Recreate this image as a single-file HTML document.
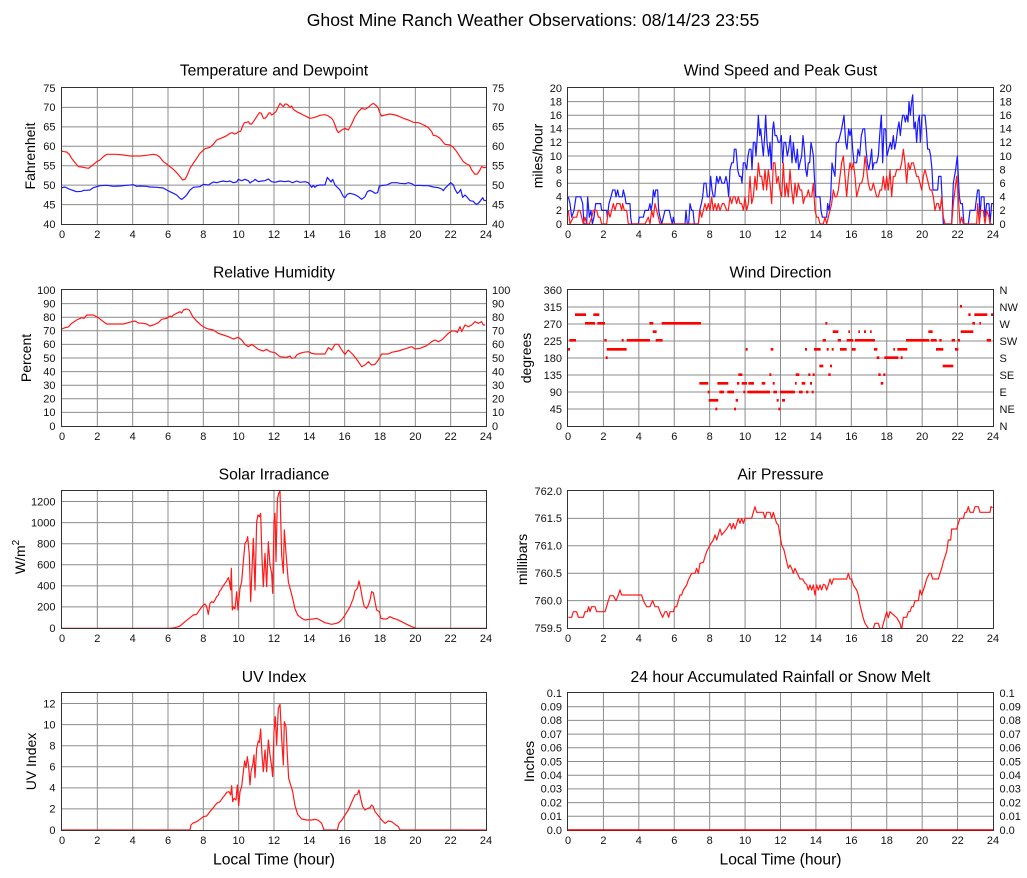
<!DOCTYPE html>
<html><head><meta charset="utf-8"><style>
html,body{margin:0;padding:0;background:#fff;}
svg{display:block;font-family:"Liberation Sans",Arial,sans-serif;}
.g{stroke:#8c8c8c;stroke-width:1;fill:none;}
.f{stroke:#333;stroke-width:1;fill:none;}
.t{font-size:11px;fill:#111;}
.d{fill:none;stroke-width:1.2;vector-effect:non-scaling-stroke;stroke-linejoin:round;}
.tt{font-size:15.7px;fill:#000;text-anchor:middle;}
.yl{font-size:14px;fill:#000;text-anchor:middle;}
</style></head><body>
<svg width="1027" height="878" viewBox="0 0 1027 878" xmlns="http://www.w3.org/2000/svg">
<rect width="1027" height="878" fill="#fff"/>
<defs>
<clipPath id="cA"><rect x="62" y="88" width="424" height="136"/></clipPath>
<clipPath id="cB"><rect x="568" y="88" width="425" height="136"/></clipPath>
<clipPath id="cC"><rect x="62" y="290" width="424" height="136"/></clipPath>
<clipPath id="cE"><rect x="62" y="490" width="424" height="138"/></clipPath>
<clipPath id="cF"><rect x="568" y="491" width="425" height="137"/></clipPath>
<clipPath id="cG"><rect x="62" y="692" width="424" height="138"/></clipPath>
<path id="vL" d="M97.33 0V137M132.67 0V137M168 0V137M203.33 0V137M238.67 0V137M274 0V137M309.33 0V137M344.67 0V137M380 0V137M415.33 0V137M450.67 0V137"/>
<path id="vR" d="M603.42 0V137M638.83 0V137M674.25 0V137M709.67 0V137M745.08 0V137M780.5 0V137M815.92 0V137M851.33 0V137M886.75 0V137M922.17 0V137M957.58 0V137"/>
<g id="xL"><text x="62">0</text><text x="97.33">2</text><text x="132.67">4</text><text x="168">6</text><text x="203.33">8</text><text x="238.67">10</text><text x="274">12</text><text x="309.33">14</text><text x="344.67">16</text><text x="380">18</text><text x="415.33">20</text><text x="450.67">22</text><text x="486">24</text></g>
<g id="xR"><text x="568">0</text><text x="603.42">2</text><text x="638.83">4</text><text x="674.25">6</text><text x="709.67">8</text><text x="745.08">10</text><text x="780.5">12</text><text x="815.92">14</text><text x="851.33">16</text><text x="886.75">18</text><text x="922.17">20</text><text x="957.58">22</text><text x="993">24</text></g>
</defs>

<text x="533" y="26" font-size="17.6" text-anchor="middle" fill="#000">Ghost Mine Ranch Weather Observations: 08/14/23 23:55</text>

<!-- ============ Panel A: Temperature ============ -->
<text class="tt" x="274" y="75.5">Temperature and Dewpoint</text>
<use href="#vL" class="g" y="87.5"/>
<path class="g" d="M62 204.57H486M62 185.14H486M62 165.71H486M62 146.29H486M62 126.86H486M62 107.43H486"/>
<g clip-path="url(#cA)"><g transform="translate(0,50) scale(0.333333)">
<polyline class="d" stroke="#ff1a1a" points="185,303 193,305 200,306 207,312 215,325 225,338 235,350 245,351 255,353 265,355 275,348 290,335 300,330 310,320 320,313 335,313 350,313 370,315 390,318 405,318 420,318 440,316 460,313 470,315 478,320 490,335 500,342 510,350 520,358 530,368 540,380 548,390 555,388 562,375 570,355 580,340 590,325 600,310 615,296 630,292 640,283 650,270 660,266 670,262 680,257 690,250 697,248 703,252 710,250 715,245 722,244 728,228 733,218 740,217 745,215 750,222 755,222 760,215 765,208 770,200 778,188 784,190 790,205 795,205 800,200 806,190 810,188 815,195 822,190 828,185 835,170 840,160 845,165 850,170 855,162 862,163 870,172 875,168 880,178 890,185 900,190 910,195 920,200 930,205 940,203 950,200 960,196 975,194 985,198 995,205 1000,212 1005,225 1010,240 1015,248 1025,240 1035,235 1045,240 1055,222 1065,200 1075,185 1085,175 1095,178 1105,172 1115,163 1120,160 1130,168 1135,175 1140,190 1145,198 1155,195 1170,192 1185,195 1195,198 1210,205 1225,210 1240,217 1255,218 1265,222 1275,227 1285,233 1295,245 1300,256 1310,258 1320,265 1335,283 1350,285 1360,292 1370,305 1380,320 1390,335 1400,342 1408,345 1415,360 1425,373 1432,372 1440,360 1445,350 1452,353 1458,352"/>
<polyline class="d" stroke="#1a1aff" points="185,413 195,411 205,416 215,420 230,425 245,424 250,421 260,421 270,420 280,413 290,410 300,407 320,406 340,409 360,408 380,406 400,404 410,409 420,408 440,409 450,411 470,412 490,414 500,420 510,425 520,430 530,435 540,445 545,448 552,443 560,435 570,420 580,412 600,410 610,403 625,405 640,396 650,398 660,395 670,393 680,395 690,393 700,398 710,396 715,388 725,392 735,388 745,392 750,399 755,395 760,393 765,388 775,395 785,393 795,392 805,387 815,395 825,397 840,393 855,395 865,393 878,398 890,393 900,397 915,395 925,398 930,405 935,412 940,406 945,412 950,407 960,405 975,405 982,382 987,388 993,396 998,388 1005,405 1012,412 1020,420 1030,440 1035,443 1042,433 1050,430 1065,434 1075,440 1085,448 1095,440 1102,425 1110,421 1118,425 1125,430 1133,428 1138,408 1150,406 1160,405 1175,398 1190,398 1200,400 1215,401 1225,398 1235,401 1245,407 1255,406 1270,407 1285,407 1300,411 1315,413 1325,417 1330,422 1335,415 1345,405 1352,398 1360,405 1365,418 1372,430 1378,425 1382,418 1388,442 1395,435 1400,440 1410,452 1420,454 1425,460 1430,463 1437,458 1443,450 1448,443 1452,451 1458,452"/>
</g></g>
<rect class="f" x="61.5" y="87.5" width="425" height="137"/>
<g class="t" text-anchor="end"><text x="55.5" y="91.8">75</text><text x="55.5" y="111.2">70</text><text x="55.5" y="130.7">65</text><text x="55.5" y="150.1">60</text><text x="55.5" y="169.5">55</text><text x="55.5" y="188.9">50</text><text x="55.5" y="208.4">45</text><text x="55.5" y="227.8">40</text></g>
<g class="t"><text x="492" y="91.8">75</text><text x="492" y="111.2">70</text><text x="492" y="130.7">65</text><text x="492" y="150.1">60</text><text x="492" y="169.5">55</text><text x="492" y="188.9">50</text><text x="492" y="208.4">45</text><text x="492" y="227.8">40</text></g>
<use href="#xL" class="t" text-anchor="middle" y="238"/>
<text class="yl" transform="translate(35,156) rotate(-90)">Fahrenheit</text>

<!-- ============ Panel B: Wind Speed ============ -->
<text class="tt" x="780.5" y="75.5">Wind Speed and Peak Gust</text>
<use href="#vR" class="g" y="87.5"/>
<path class="g" d="M568 210.4H993M568 196.8H993M568 183.2H993M568 169.6H993M568 156H993M568 142.4H993M568 128.8H993M568 115.2H993M568 101.6H993"/>
<g clip-path="url(#cB)"><g transform="translate(510,224) scale(0.333333,-6.8)">
<polyline class="d" stroke="#1a1aff" points="175,4 180,3 185,1 192,2 198,4 205,4 212,4 218,3 222,0 230,0 233,4 238,1 243,2 247,0 252,1 257,3 265,3 272,3 275,2 280,2 290,2 292,1 297,3 303,4 308,5 315,5 318,4 323,5 327,4 333,4 337,4 340,5 345,4 348,3 360,3 362,1 365,0 385,0 388,1 400,1 405,2 415,2 420,3 423,2 427,3 430,5 434,4 437,5 443,5 446,2 450,1 455,0 460,1 465,2 478,2 482,1 487,0 490,1 494,0 525,0 528,2 532,0 536,0 540,3 545,2 549,2 553,0 565,0 569,2 574,3 578,4 582,6 588,6 592,4 598,4 602,7 606,5 610,4 614,4 620,7 625,6 630,7 636,6 643,6 648,7 652,6 656,4 660,8 665,9 670,9 673,11 678,11 683,8 688,7 693,7 696,6 700,9 705,9 710,8 714,10 718,11 723,11 726,8 730,12 735,12 738,10 742,13 745,16 749,13 752,14 756,12 760,10 764,13 767,16 771,12 776,10 780,12 784,8 788,14 791,15 795,13 800,13 805,12 810,12 814,13 818,9 822,12 827,12 832,10 836,11 841,13 846,9 850,12 854,10 858,9 862,11 866,8 870,9 875,10 879,13 883,11 887,8 891,7 895,9 899,9 903,12 907,11 910,10 913,7 917,4 925,4 930,4 933,2 937,1 950,1 953,3 957,2 962,4 966,9 970,8 975,7 979,12 985,12 990,13 995,14 1002,16 1007,12 1011,11 1016,14 1020,13 1024,14 1028,11 1032,9 1040,9 1044,11 1049,10 1054,13 1059,14 1064,14 1068,11 1072,9 1076,8 1080,9 1085,11 1088,8 1092,9 1100,9 1105,10 1109,13 1114,16 1118,9 1122,14 1127,14 1131,10 1136,11 1141,12 1145,11 1150,13 1154,11 1158,12 1163,14 1167,15 1171,13 1175,15 1178,16 1182,16 1186,15 1190,16 1194,15 1197,18 1201,16 1205,18 1208,19 1212,14 1216,15 1220,12 1224,15 1228,16 1231,12 1236,16 1245,16 1249,14 1253,11 1258,11 1262,10 1266,8 1269,5 1283,5 1286,7 1293,7 1300,0 1325,0 1330,6 1337,8 1342,10 1348,4 1352,3 1357,3 1362,0 1375,0 1380,2 1395,2 1400,4 1403,5 1407,5 1410,1 1414,4 1422,4 1425,1 1430,3 1437,3 1440,0 1445,3 1450,3"/>
<polyline class="d" stroke="#ff1a1a" points="175,2 180,0 190,1 200,1 205,2 210,2 215,1 220,0 225,1 230,0 238,0 245,1 250,2 260,2 265,1 270,1 275,0 290,0 295,2 300,1 305,2 310,3 315,2 320,3 330,3 335,2 338,3 343,2 350,2 355,0 405,0 415,1 420,0 425,2 430,1 435,3 440,2 445,1 450,0 565,0 570,2 575,1 580,2 585,3 590,2 595,3 600,2 605,4 610,2 615,3 620,2 625,3 630,2 637,3 642,3 650,2 655,2 660,4 665,3 670,4 675,4 680,3 685,4 690,3 695,3 700,2 705,4 710,2 715,3 720,7 725,3 730,4 735,7 740,5 745,9 750,7 755,7 760,5 765,8 770,5 775,8 780,6 785,3 790,9 795,9 800,6 805,7 810,5 815,4 820,9 825,4 830,6 835,4 840,8 845,5 850,3 855,6 860,4 865,6 870,5 875,5 880,3 885,4 890,4 895,5 900,4 905,4 910,6 915,2 920,1 925,1 930,0 940,0 945,1 950,0 955,1 960,2 965,3 970,5 975,4 980,4 985,5 990,7 995,9 1000,10 1005,7 1010,4 1015,7 1020,9 1025,8 1030,9 1035,7 1040,4 1045,5 1050,6 1055,6 1060,7 1065,10 1070,8 1075,6 1080,5 1085,5 1090,6 1095,5 1100,4 1105,4 1110,5 1115,5 1120,7 1125,5 1130,7 1135,5 1140,8 1145,4 1150,7 1155,7 1160,8 1165,8 1170,8 1175,9 1180,11 1185,9 1190,6 1195,9 1200,8 1205,9 1210,9 1215,8 1220,7 1225,7 1230,6 1235,5 1240,7 1245,8 1250,7 1255,6 1260,5 1265,5 1270,4 1275,2 1280,3 1285,3 1290,2 1295,4 1300,1 1305,0 1325,0 1330,3 1335,5 1340,7 1345,4 1350,0 1355,1 1360,0 1400,0 1403,3 1408,0 1412,2 1420,2 1425,0 1430,2 1437,1 1440,0 1447,0"/>
</g></g>
<rect class="f" x="567.5" y="87.5" width="426" height="137"/>
<g class="t" text-anchor="end"><text x="562" y="91.8">20</text><text x="562" y="105.4">18</text><text x="562" y="119">16</text><text x="562" y="132.6">14</text><text x="562" y="146.2">12</text><text x="562" y="159.8">10</text><text x="562" y="173.4">8</text><text x="562" y="187">6</text><text x="562" y="200.6">4</text><text x="562" y="214.2">2</text><text x="562" y="227.8">0</text></g>
<g class="t"><text x="999.5" y="91.8">20</text><text x="999.5" y="105.4">18</text><text x="999.5" y="119">16</text><text x="999.5" y="132.6">14</text><text x="999.5" y="146.2">12</text><text x="999.5" y="159.8">10</text><text x="999.5" y="173.4">8</text><text x="999.5" y="187">6</text><text x="999.5" y="200.6">4</text><text x="999.5" y="214.2">2</text><text x="999.5" y="227.8">0</text></g>
<use href="#xR" class="t" text-anchor="middle" y="238"/>
<text class="yl" transform="translate(542.5,156) rotate(-90)">miles/hour</text>

<!-- ============ Panel C: RH ============ -->
<text class="tt" x="274" y="277.5">Relative Humidity</text>
<use href="#vL" class="g" y="289.5"/>
<path class="g" d="M62 303.6H486M62 317.2H486M62 330.8H486M62 344.4H486M62 358H486M62 371.6H486M62 385.2H486M62 398.8H486M62 412.4H486"/>
<g clip-path="url(#cC)"><g transform="translate(0,255) scale(0.333333)">
<polyline class="d" stroke="#ff1a1a" points="185,222 195,218 205,216 215,205 230,195 245,188 252,190 260,180 280,180 295,188 310,200 320,207 340,207 370,207 385,203 395,200 405,198 415,204 430,205 440,207 450,213 460,210 475,203 485,193 500,190 510,183 515,186 520,180 530,175 540,170 545,174 550,165 560,162 568,165 578,185 590,198 605,212 615,218 625,222 640,225 655,235 670,240 685,245 700,252 715,247 725,255 735,268 745,275 755,268 765,275 775,283 790,288 800,283 810,290 825,293 840,305 860,307 870,303 875,310 885,308 890,300 895,297 910,292 925,290 935,295 945,297 955,297 975,297 985,278 995,285 1005,268 1015,268 1025,285 1035,298 1045,285 1060,300 1075,320 1085,335 1095,330 1105,320 1115,330 1125,328 1135,315 1145,297 1165,297 1175,292 1195,288 1220,280 1235,275 1245,282 1260,280 1280,272 1295,260 1305,255 1315,260 1325,255 1335,245 1345,235 1355,228 1365,228 1372,232 1380,215 1385,230 1395,210 1405,215 1415,210 1425,200 1435,205 1445,200 1450,210 1455,210"/>
</g></g>
<rect class="f" x="61.5" y="289.5" width="425" height="137"/>
<g class="t" text-anchor="end"><text x="55.5" y="293.8">100</text><text x="55.5" y="307.4">90</text><text x="55.5" y="321">80</text><text x="55.5" y="334.6">70</text><text x="55.5" y="348.2">60</text><text x="55.5" y="361.8">50</text><text x="55.5" y="375.4">40</text><text x="55.5" y="389">30</text><text x="55.5" y="402.6">20</text><text x="55.5" y="416.2">10</text><text x="55.5" y="429.8">0</text></g>
<g class="t"><text x="492" y="293.8">100</text><text x="492" y="307.4">90</text><text x="492" y="321">80</text><text x="492" y="334.6">70</text><text x="492" y="348.2">60</text><text x="492" y="361.8">50</text><text x="492" y="375.4">40</text><text x="492" y="389">30</text><text x="492" y="402.6">20</text><text x="492" y="416.2">10</text><text x="492" y="429.8">0</text></g>
<use href="#xL" class="t" text-anchor="middle" y="440"/>
<text class="yl" transform="translate(31,358) rotate(-90)">Percent</text>

<!-- ============ Panel D: Wind Direction ============ -->
<text class="tt" x="780.5" y="277.5">Wind Direction</text>
<path class="g" d="M603.42 290V426M638.83 290V426M674.25 290V426M709.67 290V426M745.08 290V426M780.5 290V426M815.92 290V426M851.33 290V426M886.75 290V426M922.17 290V426M957.58 290V426"/>
<path class="g" d="M568 307H993M568 324H993M568 341H993M568 358H993M568 375H993M568 392H993M568 409H993"/>
<g transform="translate(510,255) scale(0.333333)" fill="#f00">
<rect x="172" y="279" width="8" height="8"/><rect x="178" y="252" width="20" height="8"/><rect x="195" y="175" width="33" height="8"/><rect x="225" y="201" width="30" height="8"/><rect x="250" y="175" width="18" height="8"/><rect x="262" y="201" width="23" height="8"/><rect x="283" y="252" width="7" height="8"/><rect x="287" y="304" width="6" height="8"/><rect x="290" y="279" width="60" height="8"/><rect x="335" y="252" width="6" height="8"/><rect x="350" y="252" width="70" height="8"/><rect x="418" y="201" width="12" height="8"/><rect x="428" y="226" width="12" height="8"/><rect x="437" y="252" width="21" height="8"/><rect x="455" y="201" width="118" height="8"/><rect x="568" y="381" width="27" height="8"/><rect x="593" y="407" width="6" height="8"/><rect x="596" y="432" width="29" height="8"/><rect x="616" y="458" width="6" height="8"/><rect x="622" y="381" width="33" height="8"/><rect x="628" y="407" width="14" height="8"/><rect x="652" y="407" width="20" height="8"/><rect x="672" y="458" width="6" height="8"/><rect x="677" y="432" width="7" height="8"/><rect x="681" y="381" width="7" height="8"/><rect x="685" y="355" width="12" height="8"/><rect x="695" y="381" width="16" height="8"/><rect x="700" y="407" width="6" height="8"/><rect x="707" y="279" width="6" height="8"/><rect x="715" y="381" width="17" height="8"/><rect x="712" y="407" width="68" height="8"/><rect x="755" y="381" width="11" height="8"/><rect x="778" y="355" width="6" height="8"/><rect x="782" y="279" width="8" height="8"/><rect x="788" y="381" width="6" height="8"/><rect x="790" y="407" width="11" height="8"/><rect x="800" y="432" width="6" height="8"/><rect x="805" y="458" width="6" height="8"/><rect x="810" y="407" width="45" height="8"/><rect x="816" y="432" width="9" height="8"/><rect x="855" y="381" width="5" height="8"/><rect x="857" y="355" width="11" height="8"/><rect x="867" y="407" width="11" height="8"/><rect x="875" y="381" width="11" height="8"/><rect x="885" y="279" width="6" height="8"/><rect x="888" y="407" width="7" height="8"/><rect x="895" y="355" width="6" height="8"/><rect x="900" y="381" width="6" height="8"/><rect x="905" y="407" width="6" height="8"/><rect x="908" y="355" width="6" height="8"/><rect x="912" y="279" width="20" height="8"/><rect x="928" y="329" width="12" height="8"/><rect x="938" y="252" width="10" height="8"/><rect x="946" y="201" width="6" height="8"/><rect x="950" y="279" width="6" height="8"/><rect x="955" y="355" width="7" height="8"/><rect x="960" y="329" width="6" height="8"/><rect x="965" y="279" width="6" height="8"/><rect x="968" y="226" width="17" height="8"/><rect x="983" y="252" width="10" height="8"/><rect x="990" y="279" width="20" height="8"/><rect x="1010" y="252" width="20" height="8"/><rect x="1015" y="226" width="5" height="8"/><rect x="1025" y="279" width="12" height="8"/><rect x="1035" y="252" width="60" height="8"/><rect x="1045" y="226" width="5" height="8"/><rect x="1062" y="226" width="6" height="8"/><rect x="1080" y="226" width="5" height="8"/><rect x="1092" y="279" width="10" height="8"/><rect x="1100" y="304" width="8" height="8"/><rect x="1105" y="355" width="7" height="8"/><rect x="1112" y="381" width="8" height="8"/><rect x="1120" y="355" width="6" height="8"/><rect x="1123" y="304" width="42" height="8"/><rect x="1150" y="279" width="5" height="8"/><rect x="1162" y="279" width="30" height="8"/><rect x="1172" y="304" width="6" height="8"/><rect x="1188" y="252" width="70" height="8"/><rect x="1255" y="226" width="13" height="8"/><rect x="1262" y="252" width="18" height="8"/><rect x="1278" y="279" width="22" height="8"/><rect x="1288" y="252" width="7" height="8"/><rect x="1298" y="329" width="32" height="8"/><rect x="1325" y="252" width="10" height="8"/><rect x="1335" y="279" width="10" height="8"/><rect x="1343" y="252" width="7" height="8"/><rect x="1350" y="150" width="6" height="8"/><rect x="1352" y="226" width="38" height="8"/><rect x="1375" y="175" width="7" height="8"/><rect x="1387" y="201" width="8" height="8"/><rect x="1393" y="175" width="39" height="8"/><rect x="1408" y="201" width="5" height="8"/><rect x="1430" y="252" width="13" height="8"/><rect x="1443" y="175" width="7" height="8"/>
</g>
<rect class="f" x="567.5" y="289.5" width="426" height="137"/>
<g class="t" text-anchor="end"><text x="562" y="293.8">360</text><text x="562" y="310.8">315</text><text x="562" y="327.8">270</text><text x="562" y="344.8">225</text><text x="562" y="361.8">180</text><text x="562" y="378.8">135</text><text x="562" y="395.8">90</text><text x="562" y="412.8">45</text><text x="562" y="429.8">0</text></g>
<g class="t"><text x="999.5" y="293.8">N</text><text x="999.5" y="310.8">NW</text><text x="999.5" y="327.8">W</text><text x="999.5" y="344.8">SW</text><text x="999.5" y="361.8">S</text><text x="999.5" y="378.8">SE</text><text x="999.5" y="395.8">E</text><text x="999.5" y="412.8">NE</text><text x="999.5" y="429.8">N</text></g>
<use href="#xR" class="t" text-anchor="middle" y="440"/>
<text class="yl" transform="translate(531,358) rotate(-90)">degrees</text>

<!-- ============ Panel E: Solar ============ -->
<text class="tt" x="274" y="479.5">Solar Irradiance</text>
<use href="#vL" class="g" y="491"/>
<path class="g" d="M62 606.92H486M62 585.85H486M62 564.77H486M62 543.69H486M62 522.62H486M62 501.54H486"/>
<g clip-path="url(#cE)"><g transform="translate(0,455) scale(0.333333)">
<polyline class="d" stroke="#ff1a1a" points="185,520 510,520 525,518 540,513 555,500 570,488 580,480 590,478 600,463 610,450 615,447 620,455 625,478 630,445 635,440 640,443 645,435 650,425 655,420 658,410 662,405 668,395 675,385 680,378 685,368 688,378 692,405 694,340 697,465 700,455 705,462 710,410 714,465 720,400 725,380 730,320 735,265 740,258 743,245 748,300 752,440 757,320 760,250 765,405 770,200 774,180 778,185 782,175 786,310 790,395 795,295 800,395 805,260 810,330 815,355 818,415 822,200 825,175 828,320 832,135 836,115 840,108 845,300 850,355 853,225 858,295 865,380 870,400 878,430 885,462 893,480 905,490 915,495 930,493 940,492 950,490 960,495 975,503 995,508 1010,505 1020,500 1030,488 1040,472 1050,455 1060,430 1065,408 1072,400 1077,378 1082,400 1087,430 1093,455 1100,460 1105,450 1110,435 1115,410 1120,413 1125,440 1130,465 1138,470 1143,490 1150,492 1160,492 1170,485 1180,490 1190,493 1205,500 1220,508 1235,515 1248,520 1458,520"/>
</g></g>
<rect class="f" x="61.5" y="490.5" width="425" height="138"/>
<g class="t" text-anchor="end"><text x="55.5" y="505.3">1200</text><text x="55.5" y="526.4">1000</text><text x="55.5" y="547.5">800</text><text x="55.5" y="568.6">600</text><text x="55.5" y="589.6">400</text><text x="55.5" y="610.7">200</text><text x="55.5" y="631.8">0</text></g>
<use href="#xL" class="t" text-anchor="middle" y="642"/>
<text class="yl" transform="translate(25,557) rotate(-90)">W/m<tspan font-size="10" dy="-6">2</tspan></text>

<!-- ============ Panel F: Pressure ============ -->
<text class="tt" x="780.5" y="479.5">Air Pressure</text>
<use href="#vR" class="g" y="491"/>
<path class="g" d="M568 600.6H993M568 573.2H993M568 545.8H993M568 518.4H993"/>
<g clip-path="url(#cF)"><g transform="translate(510,455) scale(0.333333)">
<polyline class="d" stroke="#ff1a1a" points="175,487 185,487 190,470 200,470 205,487 220,487 225,470 232,470 236,455 240,470 245,455 255,455 260,470 285,470 295,437 300,422 310,422 318,437 325,420 330,405 335,420 395,420 400,437 410,455 420,455 428,437 435,455 445,455 450,470 458,487 465,470 470,470 476,487 480,470 490,470 495,455 500,455 505,437 510,420 515,420 520,405 530,390 535,375 545,355 555,355 560,340 565,355 570,325 580,322 585,305 590,290 600,270 610,255 615,240 620,255 630,222 635,240 650,222 660,205 665,222 670,205 675,222 685,190 690,205 695,190 700,205 705,190 725,190 730,172 735,155 740,172 760,172 765,190 770,172 780,172 785,190 790,172 795,190 800,205 805,210 810,240 815,270 822,285 830,320 835,340 840,330 845,340 850,355 855,340 862,355 870,372 878,372 885,385 890,388 895,405 900,390 905,405 910,390 915,420 920,390 925,405 930,390 935,405 940,388 945,390 950,405 955,390 960,372 965,388 970,372 1010,372 1015,355 1020,372 1025,372 1030,390 1040,405 1045,420 1050,450 1060,490 1065,505 1075,520 1080,525 1090,520 1095,505 1105,505 1110,520 1115,525 1120,505 1125,488 1130,470 1135,488 1140,470 1160,488 1170,505 1175,525 1180,487 1190,487 1195,470 1200,470 1205,455 1210,455 1215,437 1225,437 1230,405 1235,420 1240,405 1245,390 1250,372 1258,355 1263,355 1268,372 1285,372 1290,355 1295,340 1300,320 1310,290 1315,255 1322,255 1325,222 1340,222 1345,205 1350,190 1360,190 1365,172 1370,172 1375,155 1380,172 1390,172 1395,155 1405,155 1410,172 1440,172 1443,155 1448,158"/>
</g></g>
<rect class="f" x="567.5" y="490.5" width="426" height="138"/>
<g class="t" text-anchor="end"><text x="562" y="494.8">762.0</text><text x="562" y="522.2">761.5</text><text x="562" y="549.6">761.0</text><text x="562" y="577">760.5</text><text x="562" y="604.4">760.0</text><text x="562" y="631.8">759.5</text></g>
<use href="#xR" class="t" text-anchor="middle" y="642"/>
<text class="yl" transform="translate(527,559.5) rotate(-90)">millibars</text>

<!-- ============ Panel G: UV ============ -->
<text class="tt" x="274" y="682">UV Index</text>
<use href="#vL" class="g" y="693"/>
<path class="g" d="M62 808.92H486M62 787.85H486M62 766.77H486M62 745.69H486M62 724.62H486M62 703.54H486"/>
<g clip-path="url(#cG)"><g transform="translate(0,655) scale(0.333333)">
<polyline class="d" stroke="#ff1a1a" points="185,525 570,525 573,510 578,505 590,500 600,493 610,485 620,483 630,470 640,458 650,445 660,440 668,428 675,420 680,412 687,410 692,420 695,392 698,440 702,430 708,435 712,390 716,452 720,410 725,395 730,350 734,318 738,338 742,305 746,335 750,390 753,350 758,330 762,300 765,368 770,280 775,258 778,262 782,222 786,300 790,350 795,285 800,350 805,255 810,300 815,335 818,365 822,230 826,185 830,270 835,160 840,148 845,250 850,330 853,200 858,215 862,300 866,370 872,390 878,410 885,452 893,478 905,492 920,495 935,495 945,493 955,496 965,505 972,525 1012,525 1017,505 1025,496 1035,480 1045,465 1055,442 1065,420 1072,418 1077,405 1082,430 1088,455 1095,465 1103,460 1110,458 1115,450 1120,455 1125,470 1135,482 1145,495 1155,505 1165,498 1175,500 1185,508 1195,515 1200,525 1458,525"/>
</g></g>
<rect class="f" x="61.5" y="692.5" width="425" height="138"/>
<g class="t" text-anchor="end"><text x="55.5" y="707.3">12</text><text x="55.5" y="728.4">10</text><text x="55.5" y="749.5">8</text><text x="55.5" y="770.6">6</text><text x="55.5" y="791.7">4</text><text x="55.5" y="812.7">2</text><text x="55.5" y="833.8">0</text></g>
<use href="#xL" class="t" text-anchor="middle" y="844"/>
<text class="yl" transform="translate(36,761.5) rotate(-90)">UV Index</text>
<text class="tt" x="274" y="864.5">Local Time (hour)</text>

<!-- ============ Panel H: Rain ============ -->
<text class="tt" x="780.5" y="682">24 hour Accumulated Rainfall or Snow Melt</text>
<use href="#vR" class="g" y="693"/>
<path class="g" d="M568 816.3H993M568 802.6H993M568 788.9H993M568 775.2H993M568 761.5H993M568 747.8H993M568 734.1H993M568 720.4H993M568 706.7H993"/>
<rect class="f" x="567.5" y="692.5" width="426" height="138"/>
<path d="M568 830H993" stroke="#e00000" stroke-width="1.5" fill="none"/>
<g class="t" text-anchor="end"><text x="562" y="696.8">0.1</text><text x="562" y="710.5">0.09</text><text x="562" y="724.2">0.08</text><text x="562" y="737.9">0.07</text><text x="562" y="751.6">0.06</text><text x="562" y="765.3">0.05</text><text x="562" y="779">0.04</text><text x="562" y="792.7">0.03</text><text x="562" y="806.4">0.02</text><text x="562" y="820.1">0.01</text><text x="562" y="833.8">0.0</text></g>
<g class="t"><text x="999.5" y="696.8">0.1</text><text x="999.5" y="710.5">0.09</text><text x="999.5" y="724.2">0.08</text><text x="999.5" y="737.9">0.07</text><text x="999.5" y="751.6">0.06</text><text x="999.5" y="765.3">0.05</text><text x="999.5" y="779">0.04</text><text x="999.5" y="792.7">0.03</text><text x="999.5" y="806.4">0.02</text><text x="999.5" y="820.1">0.01</text><text x="999.5" y="833.8">0.0</text></g>
<use href="#xR" class="t" text-anchor="middle" y="844"/>
<text class="yl" transform="translate(534,761.5) rotate(-90)">Inches</text>
<text class="tt" x="780.5" y="864.5">Local Time (hour)</text>
</svg>
</body></html>
